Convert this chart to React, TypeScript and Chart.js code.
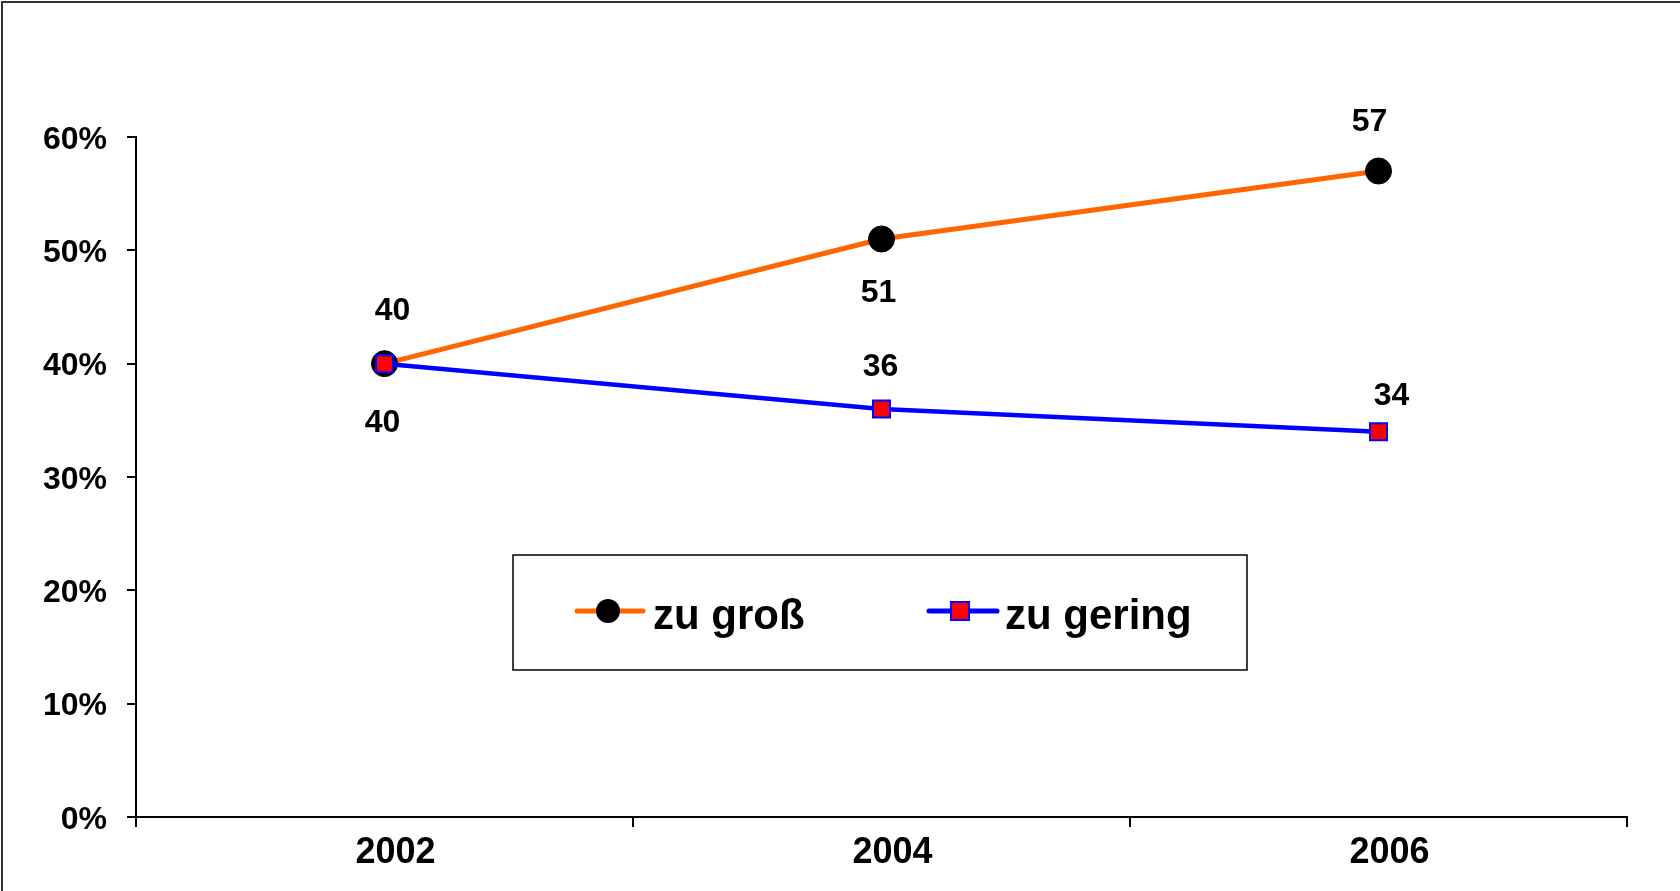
import React, { useEffect, useRef } from 'react';
import { Chart, registerables } from 'chart.js';

Chart.register(...registerables);

// ---- data ----
const categories = ['2002', '2004', '2006'];
const seriesNames = ['zu groß', 'zu gering'];
const zuGross = [40, 51, 57];
const zuGering = [40, 36, 34];
const yMin = 0;
const yMax = 60;
const yStep = 10;

// ---- styling / placement ----
const FONT = "'Liberation Sans', Arial, Helvetica, sans-serif";
const ORANGE = '#FF6600';
const BLUE = '#0000FF';
const RED = '#FF0000';

// value label offsets (px) relative to each point, per dataset
const LABEL_OFFSETS: number[][][] = [
  [[8, -52], [-3, 54], [-9, -49]],
  [[-2, 60], [-1, -42], [13, -35]],
];

const framePlugin = {
  id: 'frame',
  beforeDraw(chart: any) {
    const ctx = chart.ctx;
    ctx.save();
    ctx.fillStyle = '#fff';
    ctx.fillRect(0, 0, chart.width, chart.height);
    ctx.strokeStyle = '#333';
    ctx.lineWidth = 2;
    ctx.strokeRect(2, 2, chart.width + 20, chart.height + 20);
    ctx.restore();
  },
};

const labelPlugin = {
  id: 'valueLabels',
  afterDatasetsDraw(chart: any) {
    const ctx = chart.ctx;
    ctx.save();
    ctx.font = `bold 32px ${FONT}`;
    ctx.fillStyle = '#000';
    ctx.textAlign = 'center';
    ctx.textBaseline = 'middle';
    chart.data.datasets.forEach((ds: any, di: number) => {
      const meta = chart.getDatasetMeta(di);
      meta.data.forEach((pt: any, i: number) => {
        const off = LABEL_OFFSETS[di][i];
        ctx.fillText(String(ds.data[i]), pt.x + off[0], pt.y + off[1]);
      });
    });
    ctx.restore();
  },
};

const legendPlugin = {
  id: 'customLegend',
  afterDraw(chart: any) {
    const ctx = chart.ctx;
    const ds = chart.data.datasets;
    ctx.save();
    // box
    ctx.fillStyle = '#fff';
    ctx.fillRect(513, 555, 734, 115);
    ctx.strokeStyle = '#000';
    ctx.lineWidth = 1.5;
    ctx.strokeRect(513, 555, 734, 115);

    const lineY = 611;
    // item 1
    ctx.strokeStyle = ds[0].borderColor;
    ctx.lineWidth = 5;
    ctx.lineCap = 'round';
    ctx.beginPath();
    ctx.moveTo(577, lineY);
    ctx.lineTo(643, lineY);
    ctx.stroke();
    ctx.fillStyle = '#000';
    ctx.beginPath();
    ctx.arc(608, lineY, 12, 0, Math.PI * 2);
    ctx.fill();

    // item 2
    ctx.strokeStyle = ds[1].borderColor;
    ctx.lineWidth = 5;
    ctx.beginPath();
    ctx.moveTo(929, lineY);
    ctx.lineTo(997, lineY);
    ctx.stroke();
    ctx.fillStyle = RED;
    ctx.fillRect(951, lineY - 9, 18, 18);
    ctx.strokeStyle = BLUE;
    ctx.lineWidth = 2;
    ctx.strokeRect(951, lineY - 9, 18, 18);

    ctx.fillStyle = '#000';
    ctx.font = `bold 42px ${FONT}`;
    ctx.textAlign = 'left';
    ctx.textBaseline = 'alphabetic';
    ctx.fillText(ds[0].label, 653, 629);
    ctx.fillText(ds[1].label, 1005, 629);
    ctx.restore();
  },
};

export default function App() {
  const canvasRef = useRef<HTMLCanvasElement | null>(null);

  useEffect(() => {
    document.body.style.margin = '0';
    document.body.style.overflow = 'hidden';
    const canvas = canvasRef.current;
    if (!canvas) return;
    const chart = new Chart(canvas, {
      type: 'line',
      data: {
        labels: categories,
        datasets: [
          {
            label: seriesNames[0],
            data: zuGross,
            borderColor: ORANGE,
            borderWidth: 5,
            pointStyle: 'circle',
            pointRadius: 13,
            pointHoverRadius: 13,
            pointBackgroundColor: '#000',
            pointBorderColor: '#000',
            pointBorderWidth: 1,
            tension: 0,
            order: 2,
            clip: false as any,
          },
          {
            label: seriesNames[1],
            data: zuGering,
            borderColor: BLUE,
            borderWidth: 4.5,
            pointStyle: 'rect',
            pointRadius: 12,
            pointHoverRadius: 12,
            pointBackgroundColor: RED,
            pointBorderColor: BLUE,
            pointBorderWidth: 2,
            tension: 0,
            order: 1,
            clip: false as any,
          },
        ],
      },
      options: {
        responsive: false,
        animation: false,
        devicePixelRatio: 1,
        layout: { padding: { left: 0, right: 53, top: 137, bottom: 0 } },
        plugins: {
          legend: { display: false },
          tooltip: { enabled: false },
        },
        scales: {
          x: {
            offset: true,
            grid: {
              offset: true,
              drawOnChartArea: false,
              tickLength: 10,
              color: '#000',
              lineWidth: 2,
            },
            border: { color: '#000', width: 2 },
            ticks: {
              color: '#000',
              font: { size: 36, weight: 'bold', family: FONT, lineHeight: 1.2 },
              padding: 4,
              labelOffset: 11,
              maxRotation: 0,
            },
            afterFit: (s: any) => {
              s.height = 74;
            },
          },
          y: {
            min: yMin,
            max: yMax,
            ticks: {
              stepSize: yStep,
              color: '#000',
              font: { size: 32, weight: 'bold', family: FONT },
              padding: 20,
              labelOffset: 3,
              callback: (v: any) => `${v}%`,
            },
            grid: {
              drawOnChartArea: false,
              tickLength: 9,
              color: '#000',
              lineWidth: 2,
            },
            border: { color: '#000', width: 2 },
            afterFit: (s: any) => {
              s.width = 136;
            },
          },
        },
      },
      plugins: [framePlugin, labelPlugin, legendPlugin],
    });
    return () => chart.destroy();
  }, []);

  return (
    <div style={{ width: 1680, height: 891, overflow: 'hidden', position: 'relative' }}>
      <canvas ref={canvasRef} width={1680} height={891} style={{ display: 'block' }} />
    </div>
  );
}
